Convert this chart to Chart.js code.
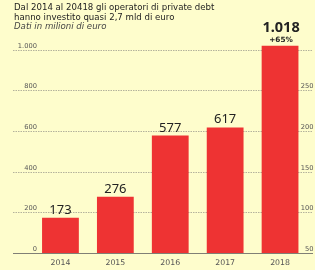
<!DOCTYPE html>
<html lang="it">
<head>
<meta charset="UTF-8">
<title>Private debt 2014-2018</title>
<script src="https://cdn.jsdelivr.net/npm/chart.js"></script>
<style>
  body { margin: 0; background: #fefdcc; }
  #wrap { position: relative; width: 315px; height: 270px; }
  #chart { position: absolute; left: 0; top: 0; }
  .head {
    position: absolute; left: 14px; top: 3px;
    font-family: "DejaVu Sans", sans-serif; font-size: 8.6px; line-height: 9.5px;
    color: #222;
  }
  .head .sub { font-style: italic; color: #444; }
</style>
</head>
<body>
<div id="wrap">
  <canvas id="chart" width="315" height="270"></canvas>
  <div class="head">
    Dal 2014 al 20418 gli operatori di private debt<br>
    hanno investito quasi 2,7 mld di euro<br>
    <span class="sub">Dati in milioni di euro</span>
  </div>
</div>
<script>
  const years = ['2014', '2015', '2016', '2017', '2018'];
  const values = [173, 276, 577, 617, 1018];
  const leftTicks = [0, 200, 400, 600, 800, 1000];
  const rightTicks = [50, 100, 150, 200, 250];
  const growthLabel = '+65%';

  // 1.018 style: dot as thousands separator
  function fmt(n) {
    return String(n).replace(/\B(?=(\d{3})+(?!\d))/g, '.');
  }

  const overlay = {
    id: 'overlay',
    beforeDatasetsDraw(chart) {
      const ctx = chart.ctx;
      const y = chart.scales.y;
      ctx.save();
      ctx.strokeStyle = '#b4b29c';
      ctx.lineWidth = 1;
      ctx.setLineDash([1.5, 1]);
      leftTicks.forEach(t => {
        if (t === 0) return;
        const py = Math.round(y.getPixelForValue(t)) + 0.5;
        ctx.beginPath();
        ctx.moveTo(13, py);
        ctx.lineTo(313, py);
        ctx.stroke();
      });
      ctx.restore();
    },
    afterDatasetsDraw(chart) {
      const ctx = chart.ctx;
      const x = chart.scales.x;
      const y = chart.scales.y;
      const y2 = chart.scales.y2;
      ctx.save();

      // baseline
      const by = Math.round(y.getPixelForValue(0)) + 0.5;
      ctx.strokeStyle = '#807f75';
      ctx.lineWidth = 1;
      ctx.beginPath();
      ctx.moveTo(13, by);
      ctx.lineTo(313, by);
      ctx.stroke();

      ctx.fillStyle = '#555';
      ctx.font = '6.7px "DejaVu Sans", sans-serif';
      ctx.textBaseline = 'alphabetic';
      ctx.textAlign = 'right';
      leftTicks.forEach(t => {
        ctx.fillText(fmt(t), 37, y.getPixelForValue(t) - 2);
      });
      rightTicks.forEach(t => {
        ctx.fillText(String(t), 313.5, y2.getPixelForValue(t) - 2);
      });

      // year labels
      ctx.textAlign = 'center';
      ctx.font = '7.8px "DejaVu Sans", sans-serif';
      years.forEach((yr, i) => {
        ctx.fillText(yr, x.getPixelForValue(i), 265);
      });

      // value labels
      const meta = chart.getDatasetMeta(0);
      meta.data.forEach((bar, i) => {
        const last = i === values.length - 1;
        ctx.fillStyle = '#222';
        if (last) {
          ctx.font = 'bold 14.5px "Noto Sans", sans-serif';
          ctx.fillText(fmt(values[i]), bar.x + 1, 32);
          ctx.font = 'bold 7.3px "DejaVu Sans", sans-serif';
          ctx.fillText(growthLabel, bar.x + 1, 42);
        } else {
          ctx.font = '13px "Noto Sans", sans-serif';
          ctx.fillText(fmt(values[i]), bar.x, bar.y - 4);
        }
      });
      ctx.restore();
    }
  };

  new Chart(document.getElementById('chart'), {
    type: 'bar',
    data: {
      labels: years,
      datasets: [{
        data: values,
        backgroundColor: '#ee3333',
        borderWidth: 0,
        barPercentage: 0.67,
        categoryPercentage: 1,
        clip: false
      }]
    },
    options: {
      responsive: false,
      animation: false,
      layout: { padding: { left: 33, right: 7.5, top: 49.5, bottom: 17 } },
      plugins: { legend: { display: false }, tooltip: { enabled: false } },
      scales: {
        x: { display: false },
        y: { display: false, min: 0, max: 1000 },
        y2: { display: false, min: 50, max: 300, position: 'right' }
      }
    },
    plugins: [overlay]
  });
</script>
</body>
</html>
